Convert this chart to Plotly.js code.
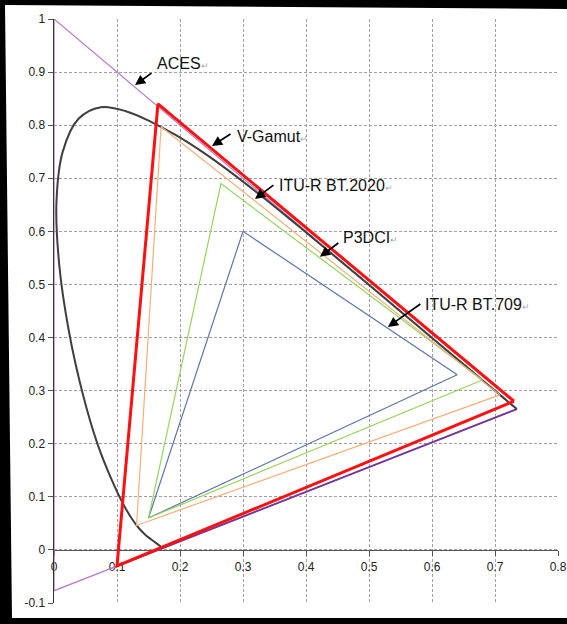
<!DOCTYPE html>
<html>
<head>
<meta charset="utf-8">
<script src="https://cdn.plot.ly/plotly-3.0.1.min.js"></script>
<style>
  html, body { margin:0; padding:0; background:#000; width:567px; height:624px; overflow:hidden; }
  #panel { position:absolute; left:0; top:0; width:567px; height:624px; background:#fff;
           clip-path: polygon(5px 5px, 567px 9px, 567px 618px, 12px 618px); }
  #chart { position:absolute; left:0; top:0; width:567px; height:624px; }
</style>
</head>
<body>
<div id="panel"></div>
<div id="chart"></div>
<script>
// CIE 1931 spectral locus (380-700 nm, 5 nm steps)
const locusX = [0.1741,0.1740,0.1738,0.1736,0.1733,0.1730,0.1726,0.1721,0.1714,0.1703,0.1689,0.1669,0.1644,0.1611,0.1566,0.1510,0.1440,0.1355,0.1241,0.1096,0.0913,0.0687,0.0454,0.0235,0.0082,0.0039,0.0139,0.0389,0.0743,0.1142,0.1547,0.1929,0.2296,0.2658,0.3016,0.3373,0.3731,0.4087,0.4441,0.4788,0.5125,0.5448,0.5752,0.6029,0.6270,0.6482,0.6658,0.6801,0.6915,0.7006,0.7079,0.7140,0.7190,0.7230,0.7260,0.7283,0.7300,0.7311,0.7320,0.7327,0.7334,0.7340,0.7344,0.7346,0.7347];
const locusY = [0.0050,0.0050,0.0049,0.0049,0.0048,0.0048,0.0048,0.0048,0.0051,0.0058,0.0069,0.0086,0.0109,0.0138,0.0177,0.0227,0.0297,0.0399,0.0578,0.0868,0.1327,0.2007,0.2950,0.4127,0.5384,0.6548,0.7502,0.8120,0.8338,0.8262,0.8059,0.7816,0.7543,0.7243,0.6923,0.6589,0.6245,0.5896,0.5547,0.5202,0.4866,0.4544,0.4242,0.3965,0.3725,0.3514,0.3340,0.3197,0.3083,0.2993,0.2920,0.2859,0.2809,0.2770,0.2740,0.2717,0.2700,0.2689,0.2680,0.2673,0.2666,0.2660,0.2656,0.2654,0.2653];

// Gamut primaries: [R, G, B, R]
const bt709X  = [0.640, 0.300, 0.150, 0.640];
const bt709Y  = [0.330, 0.600, 0.060, 0.330];
const p3X     = [0.680, 0.265, 0.150, 0.680];
const p3Y     = [0.320, 0.690, 0.060, 0.320];
const bt2020X = [0.708, 0.170, 0.131, 0.708];
const bt2020Y = [0.292, 0.797, 0.046, 0.292];
const vgamutX = [0.730, 0.165, 0.100, 0.730];
const vgamutY = [0.280, 0.840, -0.030, 0.280];
const acesX   = [0.7347, 0.0, 0.0001, 0.7347];
const acesY   = [0.2653, 1.0, -0.0770, 0.2653];

const xTicks = [0,0.1,0.2,0.3,0.4,0.5,0.6,0.7,0.8];
const xTickLabels = ['0','0.1','0.2','0.3','0.4','0.5','0.6','0.7','0.8'];
const yTicks = [-0.1,0,0.1,0.2,0.3,0.4,0.5,0.6,0.7,0.8,0.9,1];
const yTickLabels = ['-0.1','0','0.1','0.2','0.3','0.4','0.5','0.6','0.7','0.8','0.9','1'];

// Labels: name, arrow head (x,y), arrow tail offset px, text anchor (x,y)
const labelNames = ['ACES','V-Gamut','ITU-R BT.2020','P3DCI','ITU-R BT.709'];
const headX = [0.1286, 0.2508, 0.319, 0.422, 0.530];
const headY = [0.8757, 0.7608, 0.661, 0.552, 0.420];
const tailDX = [18, 20, 20, 20, 34];
const tailDY = [-13, -13, -15, -15, -24];
const textX = [0.1603, 0.2873, 0.354, 0.4556, 0.5857];
const textY = [0.917, 0.7778, 0.6855, 0.5876, 0.4614];

const line = (x, y, color, width, shape) => ({x, y, type:'scatter', mode:'lines', hoverinfo:'skip',
  line:{color, width, shape: shape || 'linear', smoothing: 1}, showlegend:false});

// darker part of the ACES blue->red edge, from where it leaves the V-Gamut blue corner
const t = (vgamutX[2] - acesX[2]) / (acesX[3] - acesX[2]);
const acesDarkX = [vgamutX[2], acesX[3]];
const acesDarkY = [acesY[2] + t * (acesY[3] - acesY[2]), acesY[3]];

const data = [
  line(acesX, acesY, '#b77ccb', 1.3),
  line(acesDarkX, acesDarkY, '#74379a', 1.8),
  line(locusX, locusY, '#3f3f3f', 2, 'spline'),
  line(bt709X, bt709Y, '#5c74aa', 1.2),
  line(p3X, p3Y, '#96d45e', 1.2),
  line(bt2020X, bt2020Y, '#f8ad78', 1.2),
  line(vgamutX, vgamutY, '#ff1010', 3)
];

const annotations = [];
for (let i = 0; i < labelNames.length; i++) {
  annotations.push({x: headX[i], y: headY[i], xref:'x', yref:'y', text:'', showarrow:true,
    ax: tailDX[i], ay: tailDY[i], arrowhead:2, arrowsize:1.2, arrowwidth:1.7, arrowcolor:'#000'});
  annotations.push({x: textX[i], y: textY[i], xref:'x', yref:'y', showarrow:false,
    xanchor:'left', yanchor:'middle',
    text: labelNames[i] + '<span style="font-size:9px;color:#aaa">↵</span>',
    font:{family:'Liberation Sans, Arial, sans-serif', size:16, color:'#111'}});
}

const layout = {
  width:567, height:624,
  margin:{l:54, r:9, t:19, b:21, pad:0},
  paper_bgcolor:'rgba(0,0,0,0)', plot_bgcolor:'rgba(0,0,0,0)',
  font:{family:'Liberation Sans, Arial, sans-serif', size:12, color:'#222'},
  xaxis:{range:[0,0.8], tickvals:xTicks, ticktext:xTickLabels, anchor:'free', position:0.1/1.1,
    showline:true, linecolor:'#555', linewidth:1.5, ticks:'outside', ticklen:5, tickcolor:'#555',
    showgrid:true, gridcolor:'#a0a0a0', griddash:'3px,2px', gridwidth:1, zeroline:false,
    layer:'below traces', fixedrange:true},
  yaxis:{range:[-0.1,1], tickvals:yTicks, ticktext:yTickLabels,
    showline:true, linecolor:'#333', linewidth:1.5, ticks:'outside', ticklen:5, tickcolor:'#555',
    showgrid:true, gridcolor:'#a0a0a0', griddash:'3px,2px', gridwidth:1, zeroline:false,
    layer:'below traces', fixedrange:true},
  annotations
};

Plotly.newPlot('chart', data, layout, {displayModeBar:false, staticPlot:true});
</script>
</body>
</html>
